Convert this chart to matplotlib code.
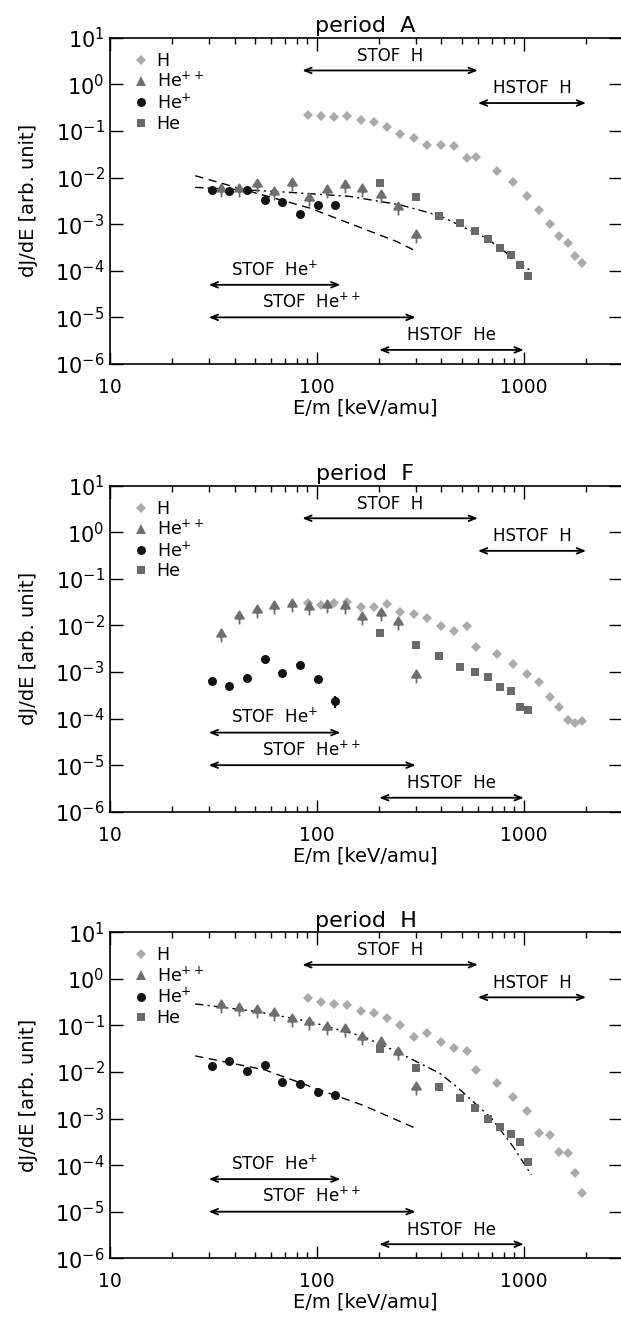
import numpy as np
import matplotlib
matplotlib.use("Agg")
import matplotlib.pyplot as plt
from matplotlib.path import Path
from matplotlib.lines import Line2D
from matplotlib.ticker import LogLocator, NullLocator, NullFormatter

plt.rcParams['font.family'] = ['DejaVu Sans']

# energy channels (keV/amu)
e_H = [90.2, 104.5, 121, 140, 163, 188, 219, 253, 294, 341, 396, 459, 532, 590,
       743, 888, 1037, 1186, 1335, 1482, 1633, 1771, 1919]
e_He2 = [34.3, 41.9, 51.2, 62.3, 75.7, 91.8, 111.7, 136.4, 166, 203, 247, 301]
e_He1 = [31.1, 37.8, 46.0, 56.1, 68.2, 83, 101, 123]
e_He = [201, 301, 390, 489, 580, 675, 765, 865, 957, 1043]

# period A
A_H = [0.218, 0.207, 0.200, 0.207, 0.176, 0.154, 0.120, 0.085, 0.070, 0.0493, 0.0493,
       0.047, 0.0259, 0.0273, 0.01387, 0.0079, 0.00409, 0.00198, 0.00099, 0.000565,
       0.000394, 0.00021, 0.000146]
A_He2 = [0.00551, 0.00532, 0.00682, 0.00467, 0.00741, 0.00352, 0.00515, 0.00649,
         0.00532, 0.00409, 0.00219, 0.000547]
A_He1 = [0.00551, 0.00523, 0.00551, 0.00336, 0.00304, 0.00162, 0.00258, 0.00254]
A_He = [0.00778, 0.00376, 0.00152, 0.00108, 0.000724, 0.000488, 0.000312, 0.000221,
        0.000135, 0.0000755]
A_fit1_x = [25.8, 49.2, 92.5, 167.5, 242.5, 292]
A_fit1_y = [0.0110, 0.00485, 0.00222, 0.000804, 0.000427, 0.000283]
A_fit2_x = [25.8, 66.2, 144.3, 251.8, 392.6, 660.7, 1089]
A_fit2_y = [0.00618, 0.00499, 0.00395, 0.00262, 0.00152, 0.000503, 0.0000968]

# period F
F_H = [0.0297, 0.0269, 0.0297, 0.0323, 0.0252, 0.0244, 0.0283, 0.0197, 0.01726,
       0.01416, 0.00986, 0.00757, 0.00986, 0.00337, 0.00243, 0.00148, 0.000888,
       0.000598, 0.000285, 0.000174, 0.0000929, 0.0000787, 0.0000883]
F_He2 = [0.00621, 0.01538, 0.0207, 0.0252, 0.0269, 0.0236, 0.0265, 0.0244, 0.01416,
         0.01726, 0.01107, 0.000818]
F_He1 = [0.000638, 0.000507, 0.000741, 0.00193, 0.000949, 0.00141, 0.000705, 0.000238]
F_He1_err = [0, 0, 0, 0, 0, 0, 0, 0.00007]
F_He = [0.00686, 0.00379, 0.00216, 0.00128, 0.000997, 0.000779, 0.000474, 0.000396,
        0.000179, 0.000155]

# period H
H_H = [0.389, 0.319, 0.284, 0.280, 0.201, 0.188, 0.142, 0.104, 0.0565, 0.070, 0.0442,
       0.0323, 0.0288, 0.01107, 0.00592, 0.00286, 0.00148, 0.000483, 0.000437,
       0.000195, 0.000180, 0.0000668, 0.0000248]
H_He2 = [0.262, 0.230, 0.205, 0.173, 0.131, 0.1148, 0.0897, 0.080, 0.0538, 0.0428,
         0.0261, 0.00447]
H_He1 = [0.01371, 0.01726, 0.01069, 0.01393, 0.00611, 0.00562, 0.00372, 0.00321]
H_He = [0.0313, 0.0120, 0.00477, 0.00277, 0.00172, 0.000964, 0.000671, 0.000467,
        0.000320, 0.000117]
H_fit1_x = [25.8, 56.1, 101, 167, 295]
H_fit1_y = [0.0221, 0.01107, 0.00425, 0.00193, 0.000638]
H_fit2_x = [25.8, 51.2, 92.5, 167.5, 242.5, 292, 392.6, 473, 569, 698, 888, 1089]
H_fit2_y = [0.289, 0.198, 0.1205, 0.0574, 0.0274, 0.0181, 0.00937, 0.00485,
            0.00231, 0.001014, 0.000249, 0.0000616]

# instrument ranges: label, E_low, E_high, level
ranges = [("STOF  H", 85, 600, 2.0),
          ("HSTOF  H", 600, 2000, 0.40),
          ("STOF  He$^{+}$", 30, 130, 5e-5),
          ("STOF  He$^{++}$", 30, 300, 1e-5),
          ("HSTOF  He", 200, 1000, 2e-6)]

panels = [
    ("period  A", A_H, A_He2, A_He1, A_He, None,
     (A_fit1_x, A_fit1_y), (A_fit2_x, A_fit2_y)),
    ("period  F", F_H, F_He2, F_He1, F_He, F_He1_err, None, None),
    ("period  H", H_H, H_He2, H_He1, H_He, None,
     (H_fit1_x, H_fit1_y), (H_fit2_x, H_fit2_y)),
]

c_H = '#aaaaaa'
c_He2 = '#6e6e6e'
c_He1 = '#141414'
c_He = '#6a6a6a'

# triangle sitting on a short stem (lower error bar)
arrow_marker = Path([(-0.55, -0.15), (0.55, -0.15), (0, 0.75), (-0.55, -0.15),
                     (0, -0.15), (0, -0.85)],
                    [Path.MOVETO, Path.LINETO, Path.LINETO, Path.CLOSEPOLY,
                     Path.MOVETO, Path.LINETO])

fig = plt.figure(figsize=(6.21, 13.21), dpi=100)
bottoms = [0.7245, 0.3855, 0.0475]

for (title, yH, yHe2, yHe1, yHe, he1err, fit1, fit2), b in zip(panels, bottoms):
    ax = fig.add_axes([0.1771, b, 0.8229, 0.2468])
    ax.set_xscale('log')
    ax.set_yscale('log')
    ax.set_xlim(10, 2950)
    ax.set_ylim(1e-6, 10)

    if fit1 is not None:
        ax.plot(fit1[0], fit1[1], color='k', lw=1.0, linestyle=(0, (6, 4)))
    if fit2 is not None:
        ax.plot(fit2[0], fit2[1], color='k', lw=1.0, linestyle=(0, (6, 3, 1.5, 3)))

    ax.plot(e_H, yH, linestyle='none', marker='D', ms=5, color=c_H, mew=0)
    ax.plot(e_He2, yHe2, linestyle='none', marker=arrow_marker, ms=10,
            mfc=c_He2, mec=c_He2, mew=1.3)
    if he1err is not None:
        ax.errorbar(e_He1, yHe1, yerr=he1err, fmt='none', ecolor=c_He1, elinewidth=1.5)
    ax.plot(e_He1, yHe1, linestyle='none', marker='o', ms=6.5, color=c_He1, mew=0)
    ax.plot(e_He, yHe, linestyle='none', marker='s', ms=6.2, color=c_He, mew=0)

    for label, lo, hi, lev in ranges:
        ax.annotate('', xy=(hi, lev), xytext=(lo, lev),
                    arrowprops=dict(arrowstyle='<->,head_length=0.5,head_width=0.2',
                                    lw=1.3, color='k', shrinkA=0, shrinkB=0))
        ax.text(np.sqrt(lo * hi), lev * 10 ** 0.12, label, ha='center', va='bottom',
                fontsize=12)

    handles = [Line2D([], [], linestyle='none', marker='D', ms=5, color=c_H, mew=0),
               Line2D([], [], linestyle='none', marker='^', ms=7, color=c_He2, mew=0),
               Line2D([], [], linestyle='none', marker='o', ms=6.5, color=c_He1, mew=0),
               Line2D([], [], linestyle='none', marker='s', ms=6, color=c_He, mew=0)]
    ax.legend(handles, ['H', 'He$^{++}$', 'He$^{+}$', 'He'], loc='upper left',
              frameon=False, fontsize=12.5, handlelength=0.8, handletextpad=0.5,
              labelspacing=0.12, borderaxespad=0.4, bbox_to_anchor=(0.02, 1.0))

    ax.yaxis.set_major_locator(LogLocator(base=10, numticks=12))
    ax.yaxis.set_minor_locator(NullLocator())
    ax.yaxis.set_minor_formatter(NullFormatter())
    ax.tick_params(which='both', direction='in', top=True, right=True)
    ax.tick_params(axis='x', labelsize=13.5)
    ax.tick_params(axis='y', labelsize=15)
    ax.tick_params(which='major', length=9, width=1)
    ax.tick_params(which='minor', length=4, width=1)
    ax.tick_params(axis='x', which='major', pad=10)
    ax.tick_params(axis='y', which='major', pad=4)
    ax.set_xticks([10, 100, 1000])
    ax.set_xticklabels(['10', '100', '1000'])
    ax.spines['right'].set_visible(False)
    for s in ['left', 'bottom', 'top']:
        ax.spines[s].set_linewidth(1.2)

    ax.set_title(title, fontsize=16, pad=4)
    ax.set_xlabel('E/m [keV/amu]', fontsize=14, labelpad=1)
    ax.set_ylabel('dJ/dE [arb. unit]', fontsize=14, labelpad=12)

fig.savefig('out.png', dpi=100)
